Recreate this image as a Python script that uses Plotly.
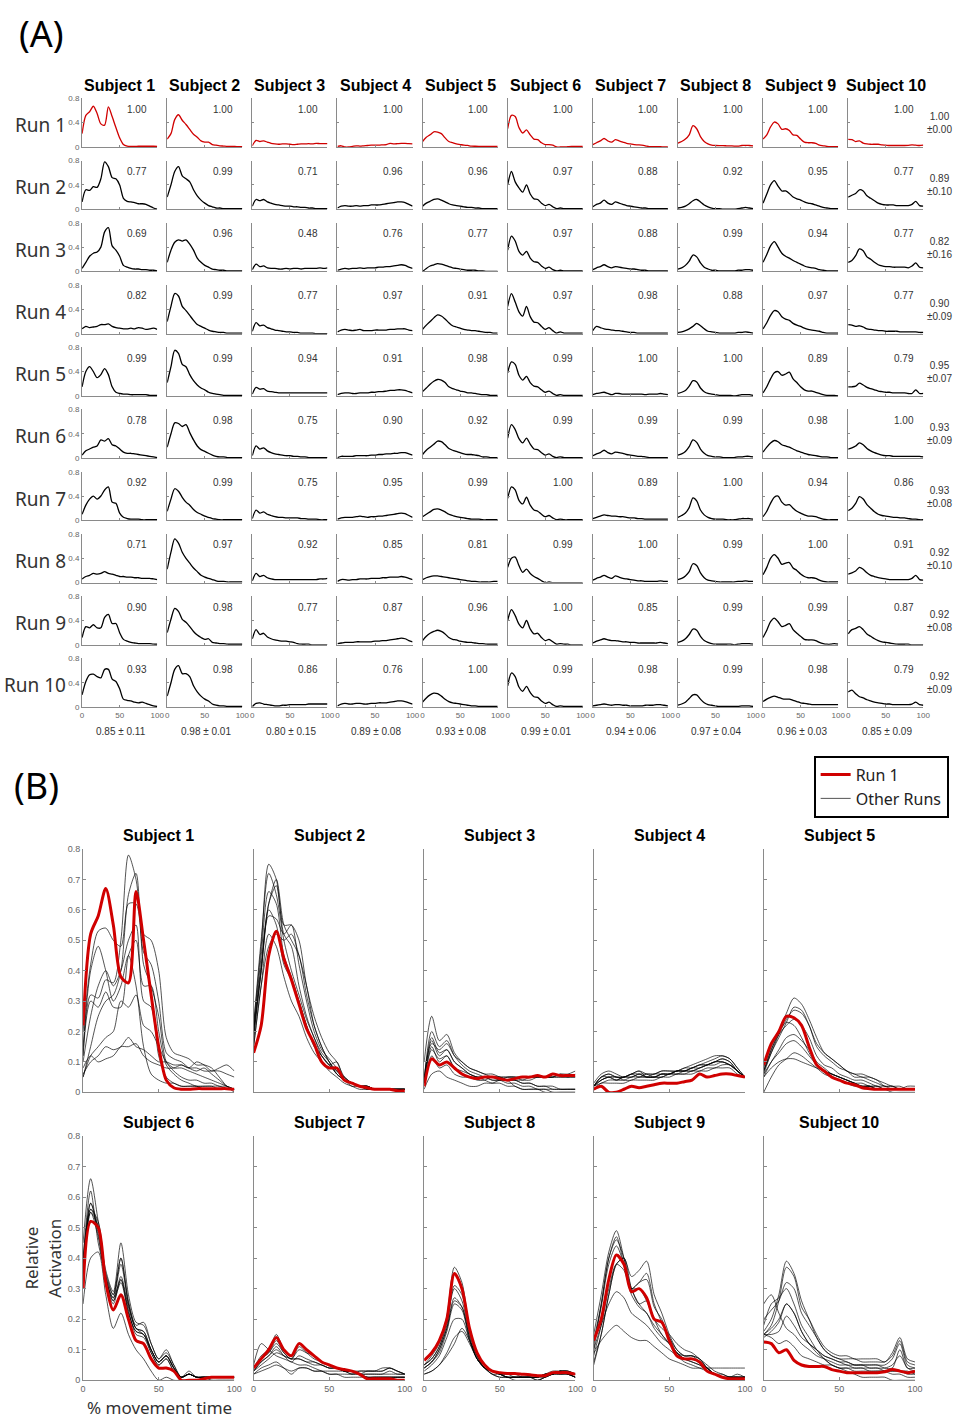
import plotly.graph_objects as go

W, H = 965, 1423
RED = "#d00000"

pct = [0, 5, 10, 15, 20, 25, 30, 35, 40, 45, 50, 55, 60, 65, 70, 75, 80, 85, 90, 95, 100]

subjects = ["Subject 1", "Subject 2", "Subject 3", "Subject 4", "Subject 5",
            "Subject 6", "Subject 7", "Subject 8", "Subject 9", "Subject 10"]
runs = ["Run 1", "Run 2", "Run 3", "Run 4", "Run 5", "Run 6", "Run 7", "Run 8", "Run 9", "Run 10"]

s1 = [
    [0.22, 0.52, 0.58, 0.67, 0.55, 0.38, 0.36, 0.66, 0.50, 0.32, 0.15, 0.04, 0.015, 0.01, 0.01, 0.012, 0.012, 0.012, 0.012, 0.012, 0.01],
    [0.12, 0.32, 0.31, 0.37, 0.36, 0.50, 0.78, 0.70, 0.52, 0.50, 0.40, 0.18, 0.13, 0.12, 0.11, 0.09, 0.09, 0.08, 0.05, 0.02, 0.00],
    [0.05, 0.15, 0.25, 0.30, 0.32, 0.40, 0.65, 0.72, 0.42, 0.35, 0.25, 0.10, 0.07, 0.05, 0.04, 0.04, 0.03, 0.03, 0.02, 0.02, 0.01],
    [0.08, 0.12, 0.10, 0.11, 0.12, 0.15, 0.15, 0.16, 0.12, 0.10, 0.09, 0.08, 0.08, 0.09, 0.08, 0.10, 0.09, 0.07, 0.08, 0.09, 0.07],
    [0.15, 0.40, 0.48, 0.40, 0.30, 0.35, 0.45, 0.35, 0.15, 0.06, 0.04, 0.03, 0.03, 0.02, 0.02, 0.02, 0.02, 0.02, 0.01, 0.01, 0.01],
    [0.05, 0.12, 0.15, 0.18, 0.20, 0.30, 0.28, 0.32, 0.22, 0.20, 0.15, 0.10, 0.08, 0.08, 0.07, 0.06, 0.05, 0.04, 0.03, 0.02, 0.01],
    [0.10, 0.25, 0.35, 0.40, 0.35, 0.40, 0.50, 0.55, 0.30, 0.28, 0.12, 0.05, 0.03, 0.02, 0.02, 0.02, 0.01, 0.01, 0.01, 0.01, 0.01],
    [0.06, 0.10, 0.12, 0.15, 0.14, 0.15, 0.18, 0.15, 0.14, 0.12, 0.10, 0.10, 0.09, 0.09, 0.08, 0.08, 0.07, 0.07, 0.07, 0.06, 0.05],
    [0.12, 0.30, 0.28, 0.33, 0.28, 0.28, 0.45, 0.50, 0.35, 0.35, 0.20, 0.09, 0.06, 0.04, 0.03, 0.02, 0.02, 0.02, 0.02, 0.01, 0.01],
    [0.20, 0.42, 0.53, 0.54, 0.50, 0.48, 0.62, 0.62, 0.46, 0.42, 0.30, 0.13, 0.11, 0.10, 0.08, 0.07, 0.08, 0.06, 0.04, 0.02, 0.01],
]
s2 = [
    [0.13, 0.22, 0.45, 0.53, 0.44, 0.37, 0.29, 0.21, 0.16, 0.10, 0.08, 0.08, 0.04, 0.03, 0.02, 0.015, 0.01, 0.01, 0.01, 0.005, 0.005],
    [0.20, 0.40, 0.62, 0.70, 0.55, 0.50, 0.45, 0.32, 0.22, 0.15, 0.10, 0.06, 0.04, 0.02, 0.02, 0.01, 0.01, 0.01, 0.01, 0.01, 0.01],
    [0.15, 0.35, 0.48, 0.52, 0.50, 0.52, 0.45, 0.35, 0.22, 0.15, 0.10, 0.07, 0.04, 0.03, 0.02, 0.02, 0.01, 0.01, 0.01, 0.01, 0.01],
    [0.20, 0.45, 0.66, 0.62, 0.45, 0.38, 0.30, 0.22, 0.15, 0.12, 0.09, 0.06, 0.04, 0.03, 0.02, 0.02, 0.01, 0.01, 0.01, 0.01, 0.01],
    [0.22, 0.48, 0.75, 0.70, 0.52, 0.48, 0.35, 0.25, 0.18, 0.13, 0.10, 0.06, 0.04, 0.03, 0.02, 0.01, 0.01, 0.01, 0.01, 0.01, 0.01],
    [0.18, 0.40, 0.58, 0.57, 0.52, 0.55, 0.42, 0.30, 0.20, 0.14, 0.11, 0.08, 0.05, 0.03, 0.02, 0.02, 0.01, 0.01, 0.01, 0.01, 0.01],
    [0.15, 0.35, 0.52, 0.48, 0.38, 0.30, 0.25, 0.18, 0.13, 0.10, 0.07, 0.05, 0.03, 0.02, 0.01, 0.01, 0.01, 0.01, 0.01, 0.01, 0.01],
    [0.22, 0.50, 0.72, 0.65, 0.50, 0.40, 0.32, 0.24, 0.18, 0.12, 0.09, 0.07, 0.05, 0.03, 0.02, 0.02, 0.01, 0.01, 0.01, 0.01, 0.01],
    [0.20, 0.42, 0.60, 0.55, 0.42, 0.37, 0.30, 0.22, 0.16, 0.12, 0.09, 0.10, 0.04, 0.03, 0.02, 0.02, 0.01, 0.01, 0.01, 0.01, 0.01],
    [0.18, 0.40, 0.62, 0.68, 0.55, 0.55, 0.50, 0.35, 0.25, 0.18, 0.13, 0.10, 0.05, 0.03, 0.02, 0.02, 0.01, 0.01, 0.01, 0.01, 0.01],
]
s3 = [
    [0.02, 0.11, 0.09, 0.10, 0.08, 0.06, 0.05, 0.045, 0.05, 0.05, 0.045, 0.04, 0.045, 0.05, 0.05, 0.055, 0.05, 0.06, 0.055, 0.055, 0.055],
    [0.05, 0.16, 0.14, 0.16, 0.12, 0.10, 0.08, 0.07, 0.06, 0.05, 0.05, 0.04, 0.04, 0.03, 0.03, 0.02, 0.02, 0.01, 0.01, 0.01, 0.01],
    [0.03, 0.12, 0.08, 0.09, 0.06, 0.05, 0.05, 0.04, 0.04, 0.05, 0.04, 0.05, 0.05, 0.04, 0.05, 0.05, 0.05, 0.05, 0.06, 0.05, 0.06],
    [0.04, 0.18, 0.13, 0.14, 0.10, 0.08, 0.06, 0.05, 0.04, 0.03, 0.03, 0.02, 0.02, 0.01, 0.01, 0.01, 0.01, 0.00, 0.00, 0.00, 0.00],
    [0.03, 0.14, 0.11, 0.12, 0.08, 0.07, 0.06, 0.05, 0.05, 0.05, 0.05, 0.05, 0.05, 0.05, 0.05, 0.05, 0.05, 0.05, 0.05, 0.05, 0.05],
    [0.04, 0.20, 0.15, 0.17, 0.12, 0.09, 0.07, 0.06, 0.05, 0.04, 0.04, 0.03, 0.03, 0.02, 0.02, 0.01, 0.01, 0.01, 0.01, 0.01, 0.01],
    [0.03, 0.17, 0.12, 0.14, 0.10, 0.08, 0.06, 0.05, 0.05, 0.04, 0.04, 0.04, 0.04, 0.03, 0.03, 0.02, 0.02, 0.02, 0.01, 0.01, 0.01],
    [0.03, 0.15, 0.10, 0.12, 0.08, 0.06, 0.05, 0.05, 0.05, 0.05, 0.05, 0.05, 0.05, 0.05, 0.05, 0.05, 0.05, 0.05, 0.06, 0.06, 0.07],
    [0.10, 0.25, 0.17, 0.19, 0.13, 0.10, 0.08, 0.07, 0.06, 0.06, 0.05, 0.04, 0.02, 0.01, 0.01, 0.01, 0.00, 0.00, 0.00, 0.00, 0.00],
    [0.01, 0.06, 0.07, 0.05, 0.04, 0.03, 0.02, 0.02, 0.03, 0.03, 0.04, 0.04, 0.04, 0.04, 0.04, 0.05, 0.05, 0.05, 0.05, 0.05, 0.05],
]
s4 = [
    [0.01, 0.02, 0.00, 0.00, 0.01, 0.02, 0.015, 0.02, 0.025, 0.03, 0.03, 0.03, 0.035, 0.04, 0.06, 0.05, 0.055, 0.06, 0.06, 0.055, 0.05],
    [0.02, 0.05, 0.06, 0.05, 0.05, 0.06, 0.05, 0.06, 0.06, 0.07, 0.07, 0.07, 0.08, 0.09, 0.10, 0.11, 0.12, 0.12, 0.11, 0.08, 0.05],
    [0.02, 0.04, 0.05, 0.04, 0.05, 0.05, 0.06, 0.05, 0.06, 0.06, 0.06, 0.07, 0.07, 0.08, 0.08, 0.09, 0.10, 0.11, 0.10, 0.07, 0.05],
    [0.03, 0.06, 0.07, 0.06, 0.05, 0.06, 0.07, 0.05, 0.05, 0.05, 0.06, 0.06, 0.06, 0.06, 0.07, 0.07, 0.08, 0.08, 0.08, 0.06, 0.05],
    [0.02, 0.04, 0.05, 0.05, 0.04, 0.04, 0.05, 0.05, 0.05, 0.06, 0.06, 0.07, 0.07, 0.08, 0.09, 0.09, 0.10, 0.10, 0.09, 0.07, 0.05],
    [0.01, 0.03, 0.03, 0.03, 0.03, 0.04, 0.04, 0.04, 0.04, 0.05, 0.05, 0.06, 0.06, 0.07, 0.07, 0.08, 0.08, 0.09, 0.09, 0.07, 0.05],
    [0.02, 0.04, 0.05, 0.05, 0.05, 0.06, 0.07, 0.06, 0.05, 0.06, 0.06, 0.07, 0.07, 0.08, 0.09, 0.10, 0.11, 0.12, 0.11, 0.08, 0.05],
    [0.02, 0.05, 0.05, 0.04, 0.05, 0.05, 0.06, 0.06, 0.06, 0.07, 0.07, 0.07, 0.08, 0.08, 0.09, 0.09, 0.09, 0.10, 0.09, 0.07, 0.05],
    [0.02, 0.03, 0.04, 0.04, 0.04, 0.05, 0.05, 0.05, 0.05, 0.05, 0.06, 0.06, 0.07, 0.07, 0.08, 0.09, 0.10, 0.11, 0.10, 0.07, 0.05],
    [0.02, 0.05, 0.06, 0.05, 0.05, 0.06, 0.06, 0.05, 0.05, 0.06, 0.06, 0.07, 0.07, 0.07, 0.08, 0.09, 0.10, 0.10, 0.09, 0.07, 0.05],
]
s5 = [
    [0.09, 0.16, 0.20, 0.25, 0.245, 0.22, 0.15, 0.09, 0.07, 0.05, 0.04, 0.03, 0.025, 0.015, 0.012, 0.01, 0.01, 0.01, 0.01, 0.01, 0.01],
    [0.05, 0.10, 0.13, 0.16, 0.17, 0.15, 0.12, 0.09, 0.07, 0.06, 0.05, 0.04, 0.03, 0.03, 0.02, 0.02, 0.01, 0.01, 0.01, 0.01, 0.01],
    [0.00, 0.05, 0.09, 0.11, 0.13, 0.12, 0.10, 0.08, 0.06, 0.05, 0.04, 0.03, 0.02, 0.02, 0.02, 0.01, 0.01, 0.00, 0.00, 0.00, 0.00],
    [0.07, 0.14, 0.20, 0.26, 0.31, 0.29, 0.24, 0.18, 0.13, 0.11, 0.09, 0.07, 0.06, 0.05, 0.05, 0.04, 0.03, 0.02, 0.02, 0.01, 0.01],
    [0.07, 0.13, 0.19, 0.24, 0.27, 0.26, 0.22, 0.15, 0.12, 0.10, 0.08, 0.07, 0.05, 0.05, 0.04, 0.03, 0.02, 0.02, 0.01, 0.01, 0.01],
    [0.06, 0.13, 0.18, 0.23, 0.28, 0.27, 0.22, 0.16, 0.13, 0.11, 0.09, 0.07, 0.06, 0.06, 0.05, 0.04, 0.02, 0.02, 0.01, 0.01, 0.01],
    [0.06, 0.10, 0.14, 0.18, 0.19, 0.17, 0.14, 0.10, 0.08, 0.06, 0.05, 0.04, 0.03, 0.02, 0.02, 0.02, 0.01, 0.01, 0.01, 0.01, 0.01],
    [0.05, 0.08, 0.10, 0.11, 0.11, 0.10, 0.09, 0.08, 0.07, 0.06, 0.05, 0.04, 0.03, 0.02, 0.02, 0.01, 0.01, 0.01, 0.01, 0.02, 0.02],
    [0.07, 0.14, 0.19, 0.22, 0.24, 0.22, 0.18, 0.12, 0.09, 0.08, 0.06, 0.05, 0.04, 0.04, 0.03, 0.02, 0.02, 0.01, 0.01, 0.01, 0.01],
    [0.08, 0.15, 0.20, 0.23, 0.22, 0.18, 0.13, 0.09, 0.07, 0.06, 0.05, 0.04, 0.03, 0.02, 0.02, 0.01, 0.01, 0.01, 0.01, 0.01, 0.01],
]
s6 = [
    [0.30, 0.52, 0.50, 0.32, 0.23, 0.28, 0.20, 0.13, 0.12, 0.07, 0.04, 0.04, 0.03, 0.00, 0.00, 0.00, 0.005, 0.01, 0.01, 0.01, 0.01],
    [0.40, 0.62, 0.45, 0.35, 0.28, 0.40, 0.25, 0.17, 0.16, 0.10, 0.06, 0.08, 0.04, 0.01, 0.02, 0.01, 0.01, 0.01, 0.01, 0.01, 0.01],
    [0.35, 0.58, 0.50, 0.33, 0.27, 0.33, 0.22, 0.16, 0.15, 0.09, 0.05, 0.07, 0.03, 0.01, 0.02, 0.01, 0.01, 0.01, 0.01, 0.01, 0.01],
    [0.45, 0.66, 0.52, 0.36, 0.29, 0.45, 0.28, 0.19, 0.18, 0.12, 0.07, 0.10, 0.05, 0.01, 0.03, 0.01, 0.01, 0.01, 0.01, 0.01, 0.01],
    [0.38, 0.56, 0.52, 0.34, 0.26, 0.32, 0.22, 0.16, 0.15, 0.10, 0.06, 0.08, 0.04, 0.01, 0.02, 0.01, 0.01, 0.01, 0.01, 0.01, 0.01],
    [0.33, 0.55, 0.47, 0.32, 0.25, 0.33, 0.23, 0.15, 0.14, 0.09, 0.05, 0.07, 0.03, 0.01, 0.02, 0.01, 0.01, 0.01, 0.01, 0.01, 0.01],
    [0.36, 0.55, 0.50, 0.33, 0.27, 0.38, 0.25, 0.17, 0.15, 0.10, 0.06, 0.08, 0.04, 0.01, 0.02, 0.01, 0.01, 0.01, 0.01, 0.01, 0.01],
    [0.25, 0.40, 0.42, 0.28, 0.17, 0.22, 0.15, 0.10, 0.07, 0.03, 0.00, 0.01, 0.00, 0.00, 0.00, 0.00, 0.00, 0.00, 0.00, 0.00, 0.00],
    [0.40, 0.58, 0.48, 0.34, 0.28, 0.40, 0.26, 0.18, 0.19, 0.12, 0.07, 0.09, 0.05, 0.01, 0.02, 0.01, 0.01, 0.00, 0.00, 0.00, 0.00],
    [0.35, 0.56, 0.50, 0.33, 0.26, 0.34, 0.24, 0.17, 0.16, 0.10, 0.06, 0.08, 0.04, 0.01, 0.02, 0.01, 0.01, 0.01, 0.01, 0.01, 0.01],
]
s7 = [
    [0.04, 0.07, 0.10, 0.14, 0.10, 0.08, 0.12, 0.10, 0.08, 0.06, 0.05, 0.04, 0.035, 0.03, 0.02, 0.005, 0.005, 0.005, 0.005, 0.00, 0.00],
    [0.04, 0.08, 0.10, 0.15, 0.10, 0.08, 0.12, 0.10, 0.08, 0.06, 0.05, 0.04, 0.03, 0.02, 0.02, 0.01, 0.01, 0.01, 0.01, 0.01, 0.01],
    [0.03, 0.06, 0.08, 0.11, 0.08, 0.06, 0.08, 0.07, 0.06, 0.05, 0.04, 0.04, 0.03, 0.02, 0.02, 0.01, 0.01, 0.01, 0.01, 0.01, 0.01],
    [0.05, 0.12, 0.10, 0.08, 0.07, 0.06, 0.05, 0.05, 0.04, 0.03, 0.02, 0.02, 0.01, 0.01, 0.01, 0.01, 0.01, 0.01, 0.01, 0.01, 0.01],
    [0.02, 0.04, 0.05, 0.06, 0.04, 0.02, 0.04, 0.04, 0.03, 0.03, 0.03, 0.03, 0.03, 0.03, 0.02, 0.03, 0.03, 0.03, 0.04, 0.03, 0.02],
    [0.04, 0.07, 0.09, 0.13, 0.09, 0.07, 0.10, 0.09, 0.08, 0.06, 0.05, 0.04, 0.03, 0.03, 0.02, 0.01, 0.01, 0.01, 0.01, 0.01, 0.01],
    [0.03, 0.05, 0.07, 0.09, 0.08, 0.07, 0.07, 0.06, 0.06, 0.05, 0.04, 0.04, 0.03, 0.03, 0.02, 0.02, 0.02, 0.02, 0.02, 0.02, 0.02],
    [0.04, 0.07, 0.09, 0.12, 0.09, 0.07, 0.11, 0.09, 0.07, 0.06, 0.05, 0.04, 0.03, 0.03, 0.02, 0.02, 0.02, 0.02, 0.03, 0.02, 0.02],
    [0.03, 0.06, 0.08, 0.10, 0.08, 0.07, 0.07, 0.06, 0.05, 0.05, 0.04, 0.04, 0.03, 0.03, 0.03, 0.03, 0.03, 0.03, 0.04, 0.03, 0.02],
    [0.02, 0.03, 0.04, 0.05, 0.04, 0.03, 0.04, 0.04, 0.03, 0.03, 0.02, 0.02, 0.02, 0.02, 0.03, 0.03, 0.03, 0.04, 0.04, 0.03, 0.02],
]
s8 = [
    [0.065, 0.09, 0.13, 0.20, 0.35, 0.30, 0.17, 0.09, 0.05, 0.03, 0.025, 0.022, 0.022, 0.02, 0.018, 0.015, 0.015, 0.025, 0.025, 0.025, 0.02],
    [0.02, 0.03, 0.05, 0.09, 0.14, 0.16, 0.12, 0.07, 0.04, 0.02, 0.01, 0.01, 0.00, 0.00, 0.00, 0.00, 0.01, 0.02, 0.03, 0.02, 0.01],
    [0.04, 0.06, 0.10, 0.17, 0.27, 0.24, 0.14, 0.07, 0.04, 0.02, 0.02, 0.01, 0.01, 0.01, 0.01, 0.01, 0.02, 0.02, 0.03, 0.03, 0.02],
    [0.02, 0.03, 0.05, 0.08, 0.12, 0.17, 0.13, 0.08, 0.04, 0.03, 0.02, 0.01, 0.01, 0.01, 0.01, 0.01, 0.02, 0.02, 0.03, 0.02, 0.01],
    [0.04, 0.06, 0.09, 0.16, 0.25, 0.23, 0.13, 0.07, 0.04, 0.03, 0.02, 0.01, 0.01, 0.01, 0.01, 0.00, 0.01, 0.02, 0.02, 0.02, 0.01],
    [0.05, 0.07, 0.11, 0.19, 0.30, 0.26, 0.15, 0.08, 0.04, 0.03, 0.02, 0.02, 0.01, 0.01, 0.01, 0.01, 0.02, 0.02, 0.03, 0.03, 0.02],
    [0.05, 0.08, 0.12, 0.21, 0.37, 0.32, 0.17, 0.09, 0.05, 0.03, 0.02, 0.02, 0.02, 0.01, 0.01, 0.01, 0.02, 0.03, 0.03, 0.03, 0.02],
    [0.05, 0.07, 0.11, 0.18, 0.31, 0.28, 0.16, 0.08, 0.04, 0.03, 0.02, 0.01, 0.01, 0.01, 0.01, 0.01, 0.02, 0.02, 0.03, 0.02, 0.02],
    [0.04, 0.06, 0.10, 0.17, 0.26, 0.24, 0.14, 0.07, 0.04, 0.02, 0.01, 0.01, 0.01, 0.01, 0.01, 0.00, 0.01, 0.02, 0.02, 0.02, 0.01],
    [0.03, 0.05, 0.08, 0.14, 0.20, 0.20, 0.13, 0.07, 0.04, 0.03, 0.02, 0.01, 0.01, 0.01, 0.01, 0.01, 0.01, 0.02, 0.02, 0.02, 0.01],
]
s9 = [
    [0.13, 0.20, 0.33, 0.41, 0.38, 0.29, 0.30, 0.27, 0.20, 0.19, 0.13, 0.08, 0.07, 0.07, 0.06, 0.03, 0.02, 0.01, 0.005, 0.005, 0.005],
    [0.10, 0.25, 0.40, 0.47, 0.38, 0.30, 0.30, 0.26, 0.20, 0.17, 0.15, 0.12, 0.10, 0.09, 0.07, 0.05, 0.03, 0.02, 0.01, 0.01, 0.01],
    [0.15, 0.28, 0.42, 0.49, 0.40, 0.30, 0.25, 0.22, 0.18, 0.15, 0.12, 0.09, 0.07, 0.06, 0.05, 0.03, 0.02, 0.01, 0.01, 0.01, 0.01],
    [0.08, 0.18, 0.30, 0.38, 0.36, 0.28, 0.24, 0.22, 0.17, 0.14, 0.12, 0.09, 0.07, 0.06, 0.05, 0.04, 0.02, 0.01, 0.01, 0.01, 0.01],
    [0.05, 0.15, 0.28, 0.38, 0.40, 0.34, 0.36, 0.39, 0.28, 0.22, 0.15, 0.10, 0.08, 0.08, 0.06, 0.04, 0.02, 0.01, 0.01, 0.01, 0.00],
    [0.10, 0.18, 0.25, 0.29, 0.27, 0.22, 0.20, 0.18, 0.15, 0.12, 0.10, 0.08, 0.06, 0.05, 0.04, 0.03, 0.02, 0.02, 0.01, 0.01, 0.01],
    [0.06, 0.15, 0.28, 0.38, 0.40, 0.30, 0.25, 0.26, 0.20, 0.15, 0.12, 0.09, 0.07, 0.07, 0.06, 0.04, 0.02, 0.01, 0.01, 0.01, 0.01],
    [0.13, 0.25, 0.40, 0.46, 0.40, 0.30, 0.32, 0.33, 0.24, 0.20, 0.14, 0.10, 0.08, 0.08, 0.07, 0.04, 0.02, 0.01, 0.01, 0.01, 0.01],
    [0.12, 0.24, 0.38, 0.44, 0.38, 0.30, 0.32, 0.35, 0.25, 0.19, 0.14, 0.09, 0.08, 0.08, 0.07, 0.04, 0.02, 0.01, 0.01, 0.02, 0.01],
    [0.09, 0.13, 0.16, 0.18, 0.16, 0.14, 0.13, 0.13, 0.11, 0.09, 0.07, 0.06, 0.05, 0.04, 0.04, 0.04, 0.04, 0.04, 0.04, 0.04, 0.04],
]
s10 = [
    [0.125, 0.12, 0.09, 0.10, 0.065, 0.05, 0.045, 0.045, 0.045, 0.035, 0.03, 0.025, 0.025, 0.025, 0.025, 0.025, 0.028, 0.035, 0.03, 0.025, 0.03],
    [0.20, 0.23, 0.26, 0.32, 0.30, 0.22, 0.18, 0.14, 0.10, 0.08, 0.07, 0.07, 0.07, 0.06, 0.06, 0.06, 0.06, 0.08, 0.13, 0.06, 0.05],
    [0.15, 0.18, 0.26, 0.37, 0.34, 0.24, 0.20, 0.15, 0.11, 0.09, 0.08, 0.08, 0.07, 0.07, 0.07, 0.07, 0.06, 0.09, 0.14, 0.07, 0.06],
    [0.15, 0.14, 0.12, 0.13, 0.11, 0.08, 0.07, 0.06, 0.05, 0.05, 0.04, 0.04, 0.04, 0.04, 0.03, 0.03, 0.03, 0.03, 0.03, 0.02, 0.02],
    [0.15, 0.15, 0.16, 0.21, 0.18, 0.14, 0.12, 0.10, 0.08, 0.07, 0.06, 0.06, 0.05, 0.05, 0.05, 0.05, 0.04, 0.04, 0.10, 0.04, 0.04],
    [0.15, 0.17, 0.20, 0.25, 0.22, 0.16, 0.12, 0.09, 0.07, 0.05, 0.04, 0.04, 0.03, 0.03, 0.03, 0.03, 0.03, 0.03, 0.03, 0.03, 0.02],
    [0.16, 0.20, 0.28, 0.39, 0.35, 0.26, 0.20, 0.14, 0.10, 0.08, 0.07, 0.06, 0.05, 0.05, 0.04, 0.04, 0.03, 0.02, 0.02, 0.01, 0.01],
    [0.14, 0.16, 0.19, 0.25, 0.22, 0.16, 0.12, 0.10, 0.08, 0.07, 0.06, 0.05, 0.05, 0.05, 0.05, 0.05, 0.05, 0.07, 0.12, 0.05, 0.04],
    [0.18, 0.25, 0.27, 0.30, 0.25, 0.18, 0.14, 0.10, 0.07, 0.05, 0.04, 0.03, 0.02, 0.01, 0.01, 0.01, 0.01, 0.00, 0.00, 0.00, 0.00],
    [0.25, 0.28, 0.22, 0.17, 0.15, 0.12, 0.10, 0.08, 0.07, 0.06, 0.05, 0.05, 0.04, 0.04, 0.04, 0.04, 0.04, 0.05, 0.08, 0.04, 0.03],
]
all_subjects = [s1, s2, s3, s4, s5, s6, s7, s8, s9, s10]

# similarity to Run 1 (rows: runs, cols: subjects)
corr = [
    ["1.00"] * 10,
    ["0.77", "0.99", "0.71", "0.96", "0.96", "0.97", "0.88", "0.92", "0.95", "0.77"],
    ["0.69", "0.96", "0.48", "0.76", "0.77", "0.97", "0.88", "0.99", "0.94", "0.77"],
    ["0.82", "0.99", "0.77", "0.97", "0.91", "0.97", "0.98", "0.88", "0.97", "0.77"],
    ["0.99", "0.99", "0.94", "0.91", "0.98", "0.99", "1.00", "1.00", "0.89", "0.79"],
    ["0.78", "0.98", "0.75", "0.90", "0.92", "0.99", "0.99", "0.99", "0.98", "1.00"],
    ["0.92", "0.99", "0.75", "0.95", "0.99", "1.00", "0.89", "1.00", "0.94", "0.86"],
    ["0.71", "0.97", "0.92", "0.85", "0.81", "0.99", "1.00", "0.99", "1.00", "0.91"],
    ["0.90", "0.98", "0.77", "0.87", "0.96", "1.00", "0.85", "0.99", "0.99", "0.87"],
    ["0.93", "0.98", "0.86", "0.76", "1.00", "0.99", "0.98", "0.99", "0.98", "0.79"],
]
row_mean = ["1.00", "0.89", "0.82", "0.90", "0.95", "0.93", "0.93", "0.92", "0.92", "0.92"]
row_sd = ["0.00", "0.10", "0.16", "0.09", "0.07", "0.09", "0.08", "0.10", "0.08", "0.09"]
col_mean = ["0.85", "0.98", "0.80", "0.89", "0.93", "0.99", "0.94", "0.97", "0.96", "0.85"]
col_sd = ["0.11", "0.01", "0.15", "0.08", "0.08", "0.01", "0.06", "0.04", "0.03", "0.09"]

FONT = "Liberation Sans, Arial, sans-serif"
FONT2 = "Noto Sans, Liberation Sans, sans-serif"
AXC = "#8a8a8a"
TICKC = "#666666"

fig = go.Figure()
layout = {}
ann = []


def fx(p):
    return p / W


def fy(p):
    return 1 - p / H


def add_text(xp, yp, text, size, color="#333", family=FONT, xanchor="center", **kw):
    d = dict(x=fx(xp), y=fy(yp), xref="paper", yref="paper", text=text, showarrow=False,
             xanchor=xanchor, yanchor="middle",
             font=dict(size=size, color=color, family=family))
    d.update(kw)
    ann.append(d)


ax_i = 0
# ---------------- Panel A ----------------
A_left0, A_px, A_w = 80.0, 86.1, 76.0
A_top0, A_py, A_h = 94.0, 62.67, 49.0
for j in range(10):
    for i in range(10):
        ax_i += 1
        sfx = "" if ax_i == 1 else str(ax_i)
        left = A_left0 + A_px * j
        top = A_top0 + A_py * i
        layout["xaxis" + sfx] = dict(
            domain=[fx(left), fx(left + A_w)], range=[0, 100], anchor="y" + sfx,
            showline=True, linecolor=AXC, linewidth=1, showgrid=False, zeroline=False,
            ticks="inside", ticklen=2, tickcolor=AXC, tickvals=[0, 50, 100],
            showticklabels=(i == 9), tickfont=dict(size=8, color=TICKC, family=FONT),
            fixedrange=True)
        layout["yaxis" + sfx] = dict(
            domain=[fy(top + A_h), fy(top)], range=[0, 0.8], anchor="x" + sfx,
            showline=True, linecolor=AXC, linewidth=1, showgrid=False, zeroline=False,
            ticks="inside", ticklen=2, tickcolor=AXC, tickvals=[0, 0.4, 0.8],
            ticktext=["0", "0.4", "0.8"],
            showticklabels=(j == 0), tickfont=dict(size=8, color=TICKC, family=FONT),
            fixedrange=True)
        fig.add_trace(go.Scatter(
            x=pct, y=all_subjects[j][i], xaxis="x" + sfx, yaxis="y" + sfx, mode="lines",
            line=dict(color=RED if i == 0 else "black", width=1.3, shape="spline", smoothing=0.8),
            showlegend=False, hoverinfo="skip"))
        add_text(left + 56, top + 11, corr[i][j], 10)
    add_text(A_left0 + A_px * j + A_w / 2, 81, "<b>%s</b>" % subjects[j], 16, color="black")
    add_text(A_left0 + A_px * j + A_w / 2 + 1, 732, "%s ± %s" % (col_mean[j], col_sd[j]), 10)

for i in range(10):
    top = A_top0 + A_py * i
    add_text(66, top + 27, runs[i], 19, family=FONT2, xanchor="right")
    add_text(947, top + 25, "%s<br>±%s" % (row_mean[i], row_sd[i]), 10)

add_text(14, 29, "(A)", 36, color="black", family=FONT2, xanchor="left")
add_text(9, 786, "(B)", 36, color="black", family=FONT2, xanchor="left")

# ---------------- Panel B ----------------
B_lefts = [81.0, 253.5, 426.0, 597.5, 769.5]
B_w = 153.0
B_rows = [(850.0, 1095.0), (1139.0, 1385.0)]
for k in range(10):
    r, c = divmod(k, 5)
    ax_i += 1
    sfx = str(ax_i)
    left = B_lefts[c]
    top, bot = B_rows[r]
    layout["xaxis" + sfx] = dict(
        domain=[fx(left), fx(left + B_w)], range=[0, 100], anchor="y" + sfx,
        showline=True, linecolor=AXC, linewidth=1, showgrid=False, zeroline=False,
        ticks="inside", ticklen=3, tickcolor=AXC, tickvals=[0, 50, 100],
        showticklabels=(r == 1), tickfont=dict(size=9, color=TICKC, family=FONT),
        fixedrange=True)
    layout["yaxis" + sfx] = dict(
        domain=[fy(bot), fy(top)], range=[0, 0.8], anchor="x" + sfx,
        showline=True, linecolor=AXC, linewidth=1, showgrid=False, zeroline=False,
        ticks="inside", ticklen=3, tickcolor=AXC,
        tickvals=[0, 0.1, 0.2, 0.3, 0.4, 0.5, 0.6, 0.7, 0.8],
        ticktext=["0", "0.1", "0.2", "0.3", "0.4", "0.5", "0.6", "0.7", "0.8"],
        showticklabels=(c == 0), tickfont=dict(size=9, color=TICKC, family=FONT),
        fixedrange=True)
    data = all_subjects[k]
    for i in range(1, 10):
        fig.add_trace(go.Scatter(
            x=pct, y=data[i], xaxis="x" + sfx, yaxis="y" + sfx, mode="lines",
            line=dict(color="rgba(0,0,0,0.85)", width=0.8, shape="spline", smoothing=0.8),
            name="Other Runs", legendrank=2, showlegend=(k == 0 and i == 1), hoverinfo="skip"))
    fig.add_trace(go.Scatter(
        x=pct, y=data[0], xaxis="x" + sfx, yaxis="y" + sfx, mode="lines",
        line=dict(color=RED, width=3, shape="spline", smoothing=0.8),
        name="Run 1", legendrank=1, showlegend=(k == 0), hoverinfo="skip"))
    add_text(left + B_w / 2, top - 14, "<b>%s</b>" % subjects[k], 16, color="black")

add_text(40, 1262, "Relative<br>Activation", 17, family=FONT2, textangle=-90)
add_text(158, 1412, "% movement time", 17, family=FONT2)

fig.update_layout(
    width=W, height=H, margin=dict(l=0, r=0, t=0, b=0),
    paper_bgcolor="white", plot_bgcolor="white",
    annotations=ann,
    showlegend=True,
    legend=dict(x=fx(820), y=fy(756), xanchor="left", yanchor="top",
                bordercolor="black", borderwidth=2, bgcolor="white",
                font=dict(size=16, color="#222", family=FONT2),
                tracegroupgap=0, itemwidth=30),
    **layout)

fig.write_html("out.html")
